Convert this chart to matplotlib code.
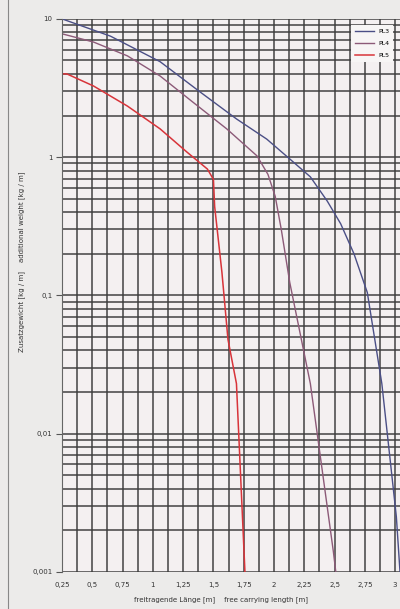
import matplotlib
matplotlib.use('Agg')
import matplotlib.pyplot as plt
from matplotlib.lines import Line2D
from matplotlib.ticker import FixedLocator, LogLocator, NullFormatter

# Kurven (freitragende Länge [m], Zusatzgewicht [kg/m])
pl3_x = [0.25, 0.65, 1.06, 1.39, 1.69, 1.94, 2.13, 2.30, 2.44, 2.55, 2.66, 2.77, 2.89, 3.01, 3.04]
pl3_y = [10.0, 7.5, 4.9, 2.96, 1.89, 1.35, 0.97, 0.72, 0.48, 0.33, 0.2, 0.105, 0.023, 0.0025, 0.001]

pl4_x = [0.25, 0.51, 0.79, 1.06, 1.33, 1.61, 1.86, 1.95, 2.01, 2.06, 2.13, 2.30, 2.49, 2.51]
pl4_y = [7.8, 6.8, 5.4, 3.86, 2.5, 1.6, 1.02, 0.75, 0.52, 0.3, 0.124, 0.023, 0.0014, 0.001]

pl5_x = [0.25, 0.29, 0.51, 0.79, 1.06, 1.28, 1.45, 1.50, 1.51, 1.57, 1.62, 1.69, 1.76]
pl5_y = [4.0, 4.0, 3.27, 2.34, 1.6, 1.09, 0.82, 0.69, 0.44, 0.147, 0.048, 0.023, 0.001]

x_ticks = [0.25, 0.5, 0.75, 1, 1.25, 1.5, 1.75, 2, 2.25, 2.5, 2.75, 3]
x_labels = ['0,25', '0,5', '0,75', '1', '1,25', '1,5', '1,75', '2', '2,25', '2,5', '2,75', '3']
y_ticks = [0.001, 0.01, 0.1, 1, 10]
y_labels = ['0,001', '0,01', '0,1', '1', '10']

plt.rcParams['font.family'] = ['DejaVu Sans']

fig = plt.figure(figsize=(4, 6.09), dpi=100, facecolor='#ecebea')
ax = fig.add_axes([0.155, 0.061, 0.845, 0.908])
ax.set_facecolor('#f4f0f1')

ax.set_yscale('log')
ax.set_xlim(0.25, 3.04)
ax.set_ylim(0.001, 10)

# Raster
ax.xaxis.set_minor_locator(FixedLocator([0.25 + 0.125 * i for i in range(23)]))
ax.yaxis.set_minor_locator(LogLocator(base=10, subs=range(1, 10)))
ax.yaxis.set_minor_formatter(NullFormatter())
ax.grid(True, which='both', axis='both', color='#3c3c3c', linewidth=1.25, alpha=0.85)
ax.set_axisbelow(True)

ax.plot(pl3_x, pl3_y, color='#4b4f86', linewidth=1.0, label='PL3')
ax.plot(pl4_x, pl4_y, color='#8c5a78', linewidth=1.0, label='PL4')
ax.plot(pl5_x, pl5_y, color='#d8343a', linewidth=1.1, label='PL5')

ax.set_xticks(x_ticks)
ax.set_xticklabels(x_labels, fontsize=5, color='#333333')
ax.set_yticks(y_ticks)
ax.set_yticklabels(y_labels, fontsize=5, color='#333333')
ax.tick_params(axis='x', which='both', length=0, pad=7)
ax.tick_params(axis='y', which='major', length=4, color='#555555', pad=3)
ax.tick_params(axis='y', which='minor', length=0)

for s in ['top', 'right', 'bottom']:
    ax.spines[s].set_visible(False)
ax.spines['left'].set_color('#666666')
ax.spines['left'].set_linewidth(0.8)

ax.set_xlabel('freitragende Länge [m]    free carrying length [m]', fontsize=5, color='#333333')
ax.set_ylabel('Zusatzgewicht [kg / m]    additional weight [kg / m]', fontsize=5, color='#333333')
ax.yaxis.set_label_coords(-0.11, 0.56)
ax.xaxis.set_label_coords(0.47, -0.045)

leg = ax.legend(loc='upper right', fontsize=4.5, frameon=True, fancybox=False,
                handlelength=3, borderpad=0.6, labelspacing=1.1, bbox_to_anchor=(0.99, 0.995))
leg.get_frame().set_facecolor('#f7f5f5')
leg.get_frame().set_edgecolor('none')
leg.get_frame().set_alpha(1)

# Rand der Vorlage links
fig.add_artist(Line2D([0.02, 0.02], [0.0, 1.0], color='#888888', linewidth=0.8))

fig.savefig('out.png', dpi=100, facecolor=fig.get_facecolor())
plt.close()
